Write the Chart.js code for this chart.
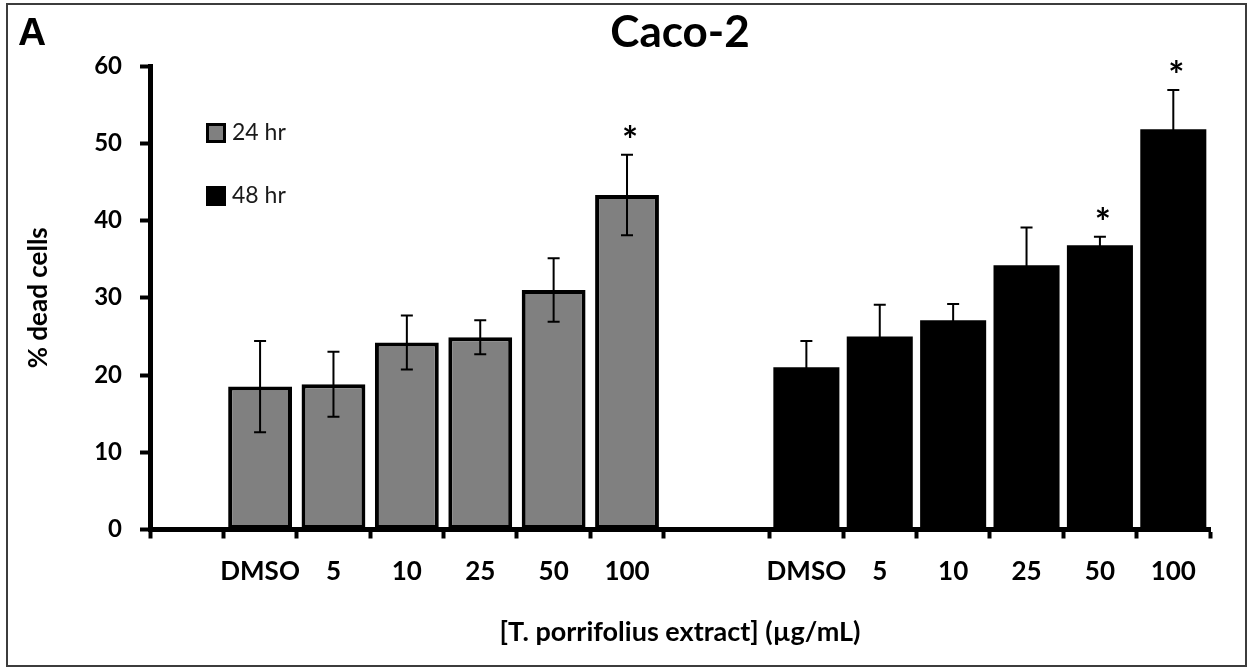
<!DOCTYPE html>
<html>
<head>
<meta charset="utf-8">
<title>Caco-2</title>
<script src="https://cdn.jsdelivr.net/npm/chart.js@4.4.1/dist/chart.umd.min.js"></script>
<style>
  html, body { margin: 0; padding: 0; background: #fff; }
  #wrap { position: relative; width: 1251px; height: 668px; }
  #frame { position: absolute; left: 6px; top: 3px; width: 1241px; height: 664px;
           box-sizing: border-box; border: 2px solid #3c3c3c; pointer-events: none; }
</style>
</head>
<body>
<div id="wrap">
  <canvas id="cacoChart"></canvas>
  <div id="frame"></div>
</div>
<script>
// % dead Caco-2 cells after treatment, mean and SD per dose
const doses = ['DMSO', '5', '10', '25', '50', '100'];
const dead24 = [18.5, 18.8, 24.2, 24.9, 31.0, 43.3];
const sd24 = [5.9, 4.2, 3.5, 2.2, 4.1, 5.2];
const dead48 = [21.0, 25.0, 27.1, 34.2, 36.8, 51.8];
const sd48 = [3.4, 4.1, 2.1, 4.9, 1.1, 5.1];
const star24 = [false, false, false, false, false, true];
const star48 = [false, false, false, false, true, true];
const yTicks = [0, 10, 20, 30, 40, 50, 60];

// category axis layout, in bar slots
const LEAD_GAP = 1;
const GROUP_GAP = 1.444;
const groupStart = [LEAD_GAP, LEAD_GAP + doses.length + GROUP_GAP];
const axisEnd = groupStart[1] + doses.length;

const slot = (group, i) => groupStart[group] + i + 0.5;
const boundaries = [0];
groupStart.forEach(s => { for (let i = 0; i <= doses.length; i++) boundaries.push(s + i); });
const centers = groupStart.flatMap(s => doses.map((d, i) => s + i + 0.5));
const doseLabels = groupStart.flatMap(() => doses);

const boldFont = size => ({ family: 'Lato', weight: 'bold', size: size });

// error bars and significance stars on top of the bars
const errorBars = {
    id: 'errorBars',
    afterDatasetsDraw(chart) {
        const { ctx, scales: { y } } = chart;
        ctx.save();
        ctx.strokeStyle = '#000';
        ctx.lineWidth = 2;
        chart.data.datasets.forEach((ds, di) => {
            const meta = chart.getDatasetMeta(di);
            meta.data.forEach((bar, i) => {
                const v = ds.data[i].y;
                const e = ds.sd[i];
                const top = y.getPixelForValue(v + e);
                const bot = y.getPixelForValue(v - e);
                ctx.beginPath();
                ctx.moveTo(bar.x, top);
                ctx.lineTo(bar.x, bot);
                ctx.moveTo(bar.x - 6, top);
                ctx.lineTo(bar.x + 6, top);
                ctx.moveTo(bar.x - 6, bot);
                ctx.lineTo(bar.x + 6, bot);
                ctx.stroke();
                if (ds.stars[i]) {
                    ctx.font = 'bold 38px Lato';
                    ctx.fillStyle = '#000';
                    ctx.textAlign = 'center';
                    ctx.textBaseline = 'alphabetic';
                    const m = ctx.measureText('*');
                    const cy = top - 24;
                    ctx.fillText('*', bar.x + 3, cy + (m.actualBoundingBoxAscent - m.actualBoundingBoxDescent) / 2);
                }
            });
        });
        ctx.restore();
    }
};

// legend inside the plot and the panel letter
const panelDecor = {
    id: 'panelDecor',
    afterDraw(chart) {
        const { ctx, chartArea } = chart;
        ctx.save();
        chart.data.datasets.forEach((ds, di) => {
            const x = chartArea.left + 56;
            const y = chartArea.top + 57 + di * 63;
            ctx.fillStyle = ds.backgroundColor;
            ctx.fillRect(x, y, 20, 20);
            if (ds.borderWidth) {
                ctx.strokeStyle = '#000';
                ctx.lineWidth = 3;
                ctx.strokeRect(x + 1.5, y + 1.5, 17, 17);
            }
            ctx.fillStyle = '#1a1a1a';
            ctx.font = '23px Lato';
            ctx.textAlign = 'left';
            ctx.textBaseline = 'middle';
            ctx.fillText(ds.label, x + 26, y + 10);
        });
        ctx.fillStyle = '#000';
        ctx.font = 'bold 39px "Liberation Sans"';
        ctx.textAlign = 'left';
        ctx.textBaseline = 'alphabetic';
        ctx.fillText('A', 18, 45);
        ctx.restore();
    }
};

function drawChart() {
    const ctx = document.getElementById('cacoChart').getContext('2d');
    new Chart(ctx, {
        type: 'bar',
        data: {
            datasets: [{
                label: '24 hr',
                data: dead24.map((v, i) => ({ x: slot(0, i), y: v })),
                sd: sd24,
                stars: star24,
                backgroundColor: '#808080',
                borderColor: '#000',
                borderWidth: 4,
                borderSkipped: false,
                barPercentage: 0.87,
                categoryPercentage: 1,
                grouped: false
            }, {
                label: '48 hr',
                data: dead48.map((v, i) => ({ x: slot(1, i), y: v })),
                sd: sd48,
                stars: star48,
                backgroundColor: '#000',
                borderWidth: 0,
                barPercentage: 0.9,
                categoryPercentage: 1,
                grouped: false
            }]
        },
        options: {
            responsive: true,
            maintainAspectRatio: false,
            animation: false,
            events: [],
            layout: { padding: { left: 20, right: 41, top: 0, bottom: 0 } },
            scales: {
                x: {
                    type: 'linear',
                    min: 0,
                    max: axisEnd,
                    offset: false,
                    weight: 0,
                    afterBuildTicks: s => { s.ticks = boundaries.map(v => ({ value: v })); },
                    ticks: { display: false },
                    grid: { offset: false, drawOnChartArea: false, tickLength: 9, tickWidth: 4, tickColor: '#000' },
                    border: { color: '#000', width: 5 },
                    afterFit: s => { s.height = 9; }
                },
                xDose: {
                    type: 'linear',
                    axis: 'x',
                    position: 'bottom',
                    min: 0,
                    max: axisEnd,
                    offset: false,
                    weight: 1,
                    afterBuildTicks: s => { s.ticks = centers.map(v => ({ value: v })); },
                    ticks: {
                        callback: (v, i) => doseLabels[i],
                        font: boldFont(26),
                        color: '#000',
                        padding: 18,
                        autoSkip: false,
                        maxRotation: 0
                    },
                    grid: { display: false, drawTicks: false, offset: false },
                    border: { display: false },
                    title: {
                        display: true,
                        text: '[T. porrifolius extract] (µg/mL)',
                        font: boldFont(27),
                        color: '#000',
                        padding: { top: 0, bottom: 19.8 }
                    },
                    afterFit: s => { s.height = 129.5; }
                },
                y: {
                    min: 0,
                    max: 60,
                    afterBuildTicks: s => { s.ticks = yTicks.map(v => ({ value: v })); },
                    ticks: { font: boldFont(24), color: '#000', padding: 18 },
                    grid: { drawOnChartArea: false, tickLength: 10, tickWidth: 4, tickColor: '#000' },
                    border: { color: '#000', width: 5 },
                    title: {
                        display: true,
                        text: '% dead cells',
                        font: boldFont(26),
                        color: '#000',
                        padding: { top: 3, bottom: 0 }
                    },
                    afterFit: s => { s.width = 130; }
                }
            },
            plugins: {
                legend: { display: false },
                tooltip: { enabled: false },
                title: {
                    display: true,
                    text: 'Caco-2',
                    fullSize: false,
                    font: boldFont(44),
                    color: '#000',
                    padding: { top: 6, bottom: 7.2 }
                }
            }
        },
        plugins: [errorBars, panelDecor]
    });
}

document.fonts.load('bold 20px Lato').then(drawChart, drawChart);
</script>
</body>
</html>
